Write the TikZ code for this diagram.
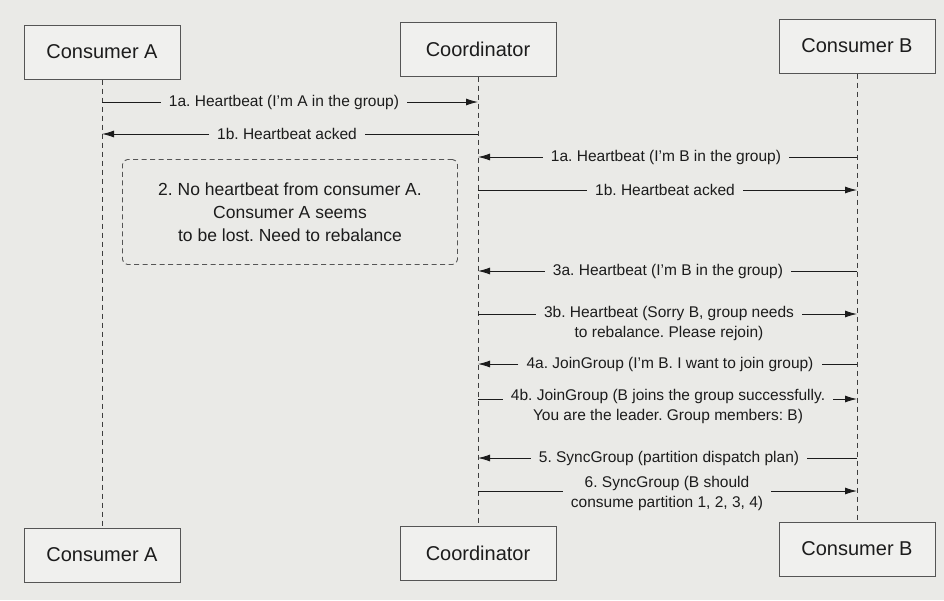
\documentclass[tikz,border=0pt]{standalone}
\usepackage{fontspec}
\setmainfont{Liberation Sans}
\usetikzlibrary{arrows.meta}
\definecolor{paper}{HTML}{EAEAE7}
\definecolor{ink}{HTML}{1C1C1C}
\definecolor{edge}{HTML}{555555}
\frenchspacing
\begin{document}
\begin{tikzpicture}[x=1pt,y=-1pt,
  actor/.style={draw=edge, line width=1pt, fill=paper!70!white,
    minimum width=156pt, minimum height=54pt,
    font=\fontsize{20}{24}\selectfont, text=ink},
  life/.style={draw=ink!85, line width=0.8pt, dash pattern=on 5pt off 4pt},
  msg/.style={font=\fontsize{15.5}{20}\selectfont, text=ink,
    inner xsep=8pt, inner ysep=0pt, align=center},
  wire/.style={draw=ink, line width=0.9pt},
  arr/.style={wire, -{Latex[length=12pt,width=7pt]}},
  note/.style={draw=edge, line width=0.9pt, dash pattern=on 5pt off 3.5pt,
    rounded corners=5pt, font=\fontsize{17.5}{23}\selectfont,
    align=center, text=ink}
]
% page
\fill[paper] (0,0) rectangle (944,600);

% participants
\node[actor] (Atop) at (102,52) {Consumer A};
\node[actor] (Ctop) at (478,49) {Coordinator};
\node[actor] (Btop) at (857,46) {Consumer B};
\node[actor] (Abot) at (102,555) {Consumer A};
\node[actor] (Cbot) at (478,553) {Coordinator};
\node[actor] (Bbot) at (857,549) {Consumer B};

% lifelines
\draw[life] (Atop.south) -- (Abot.north);
\draw[life] (Ctop.south) -- (Cbot.north);
\draw[life] (Btop.south) -- (Bbot.north);

% 1a / 1b  (consumer A)
\coordinate (A1a) at (102,102); \coordinate (C1a) at (478,102);
\node[msg] (m1a) at (284,102) {1a. Heartbeat (I'm A in the group)};
\draw[wire] (A1a) -- (m1a.west);
\draw[arr] (m1a.east) -- (C1a);

\coordinate (C1b) at (478,134); \coordinate (A1b) at (102,134);
\node[msg] (m1b) at (287,134) {1b. Heartbeat acked};
\draw[wire] (C1b) -- (m1b.east);
\draw[arr] (m1b.west) -- (A1b);

% 1a / 1b  (consumer B)
\coordinate (B1aB) at (857,157); \coordinate (C1aB) at (478,157);
\node[msg] (m1aB) at (666,157) {1a. Heartbeat (I'm B in the group)};
\draw[wire] (B1aB) -- (m1aB.east);
\draw[arr] (m1aB.west) -- (C1aB);

\coordinate (C1bB) at (478,190); \coordinate (B1bB) at (857,190);
\node[msg] (m1bB) at (665,190) {1b. Heartbeat acked};
\draw[wire] (C1bB) -- (m1bB.west);
\draw[arr] (m1bB.east) -- (B1bB);

% 2. coordinator notices the missing heartbeat
\node[note, minimum width=335pt, minimum height=105pt] (lost) at (290,212)
  {2. No heartbeat from consumer A.\\Consumer A seems\\to be lost. Need to rebalance};

% 3a / 3b
\coordinate (B3a) at (857,271); \coordinate (C3a) at (478,271);
\node[msg] (m3a) at (668,271) {3a. Heartbeat (I'm B in the group)};
\draw[wire] (B3a) -- (m3a.east);
\draw[arr] (m3a.west) -- (C3a);

\coordinate (C3b) at (478,314); \coordinate (B3b) at (857,314);
\node[msg] (m3b) at (669,323) {3b. Heartbeat (Sorry B, group needs\\to rebalance. Please rejoin)};
\draw[wire] (C3b) -- (m3b.west |- C3b);
\draw[arr] (m3b.east |- C3b) -- (B3b);

% 4a / 4b
\coordinate (B4a) at (857,364); \coordinate (C4a) at (478,364);
\node[msg] (m4a) at (670,364) {4a. JoinGroup (I'm B. I want to join group)};
\draw[wire] (B4a) -- (m4a.east);
\draw[arr] (m4a.west) -- (C4a);

\coordinate (C4b) at (478,399); \coordinate (B4b) at (857,399);
\node[msg] (m4b) at (668,406) {4b. JoinGroup (B joins the group successfully.\\You are the leader. Group members: B)};
\draw[wire] (C4b) -- (m4b.west |- C4b);
\draw[arr] (m4b.east |- C4b) -- (B4b);

% 5 / 6
\coordinate (B5) at (857,458); \coordinate (C5) at (478,458);
\node[msg] (m5) at (669,458) {5. SyncGroup (partition dispatch plan)};
\draw[wire] (B5) -- (m5.east);
\draw[arr] (m5.west) -- (C5);

\coordinate (C6) at (478,491); \coordinate (B6) at (857,491);
\node[msg] (m6) at (667,493) {6. SyncGroup (B should\\consume partition 1, 2, 3, 4)};
\draw[wire] (C6) -- (m6.west |- C6);
\draw[arr] (m6.east |- C6) -- (B6);
\end{tikzpicture}
\end{document}
